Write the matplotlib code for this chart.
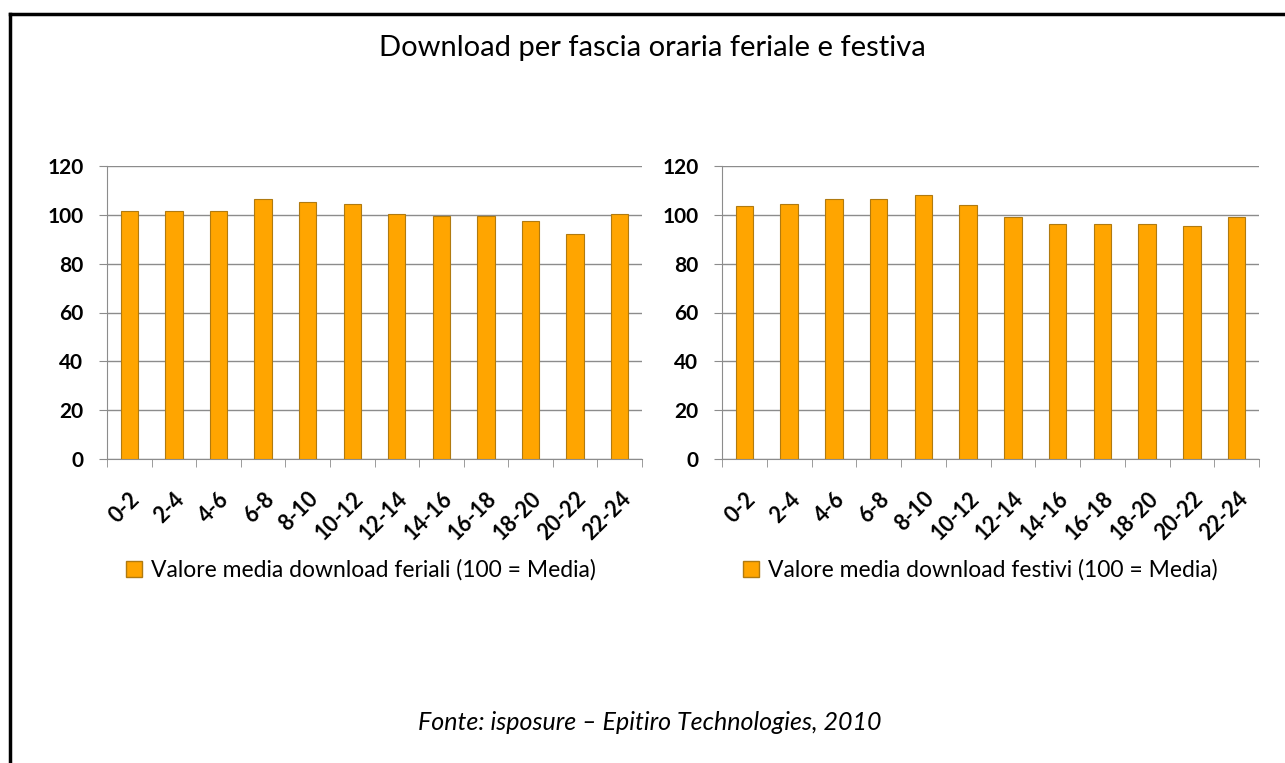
import numpy as np
import matplotlib
matplotlib.use("Agg")
import matplotlib.pyplot as plt
from matplotlib.lines import Line2D
from matplotlib.patches import Patch

plt.rcParams['font.family'] = ['Lato', 'DejaVu Sans']

# dati
fasce = ['0-2', '2-4', '4-6', '6-8', '8-10', '10-12', '12-14',
         '14-16', '16-18', '18-20', '20-22', '22-24']
feriali = [101.6, 101.6, 101.6, 106.6, 105.4, 104.6, 100.4,
           99.4, 99.4, 97.4, 92.3, 100.4]
festivi = [103.6, 104.5, 106.5, 106.5, 108.3, 104.0, 99.3,
           96.4, 96.4, 96.4, 95.5, 99.3]
legenda_fer = 'Valore media download feriali (100 = Media)'
legenda_fes = 'Valore media download festivi (100 = Media)'

W, H = 1285, 763
fig = plt.figure(figsize=(W / 100, H / 100), dpi=100)

bar_col = '#FFA500'
edge_col = '#B07A10'
grid_col = '#8C8C8C'


def disegna(ax, valori, etichetta, leg_x):
    x = np.arange(len(fasce))
    ax.bar(x, valori, width=0.39, color=bar_col, edgecolor=edge_col,
           linewidth=0.8, zorder=3)
    ax.set_xlim(-0.5, len(fasce) - 0.5)
    ax.set_ylim(0, 120)
    ax.set_yticks(np.arange(0, 121, 20))
    ax.yaxis.grid(True, color=grid_col, linewidth=1, zorder=0)
    for s in ['top', 'right']:
        ax.spines[s].set_visible(False)
    for s in ['left', 'bottom']:
        ax.spines[s].set_color(grid_col)
    ax.set_xticks(x)
    ax.set_xticklabels(fasce, rotation=45, ha='right', rotation_mode='anchor',
                       fontsize=15.5, fontweight='bold')
    ax.set_xticks(np.arange(-0.5, len(fasce), 1), minor=True)
    ax.tick_params(axis='x', which='major', length=0, pad=21)
    ax.tick_params(axis='x', which='minor', length=6, color=grid_col)
    ax.tick_params(axis='y', length=6, color=grid_col, labelsize=15, pad=11)
    for t in ax.get_yticklabels():
        t.set_fontweight('bold')
    h = Patch(facecolor=bar_col, edgecolor=edge_col, label=etichetta)
    fig.legend(handles=[h], loc='center', bbox_to_anchor=(leg_x, 0.253),
               frameon=False, fontsize=16.5, handlelength=0.7, handleheight=0.7,
               handletextpad=0.4)


ax1 = fig.add_axes([107 / W, 1 - 459 / H, 535 / W, 293 / H])
disegna(ax1, feriali, legenda_fer, 361 / W)

ax2 = fig.add_axes([722 / W, 1 - 459 / H, 537 / W, 293 / H])
disegna(ax2, festivi, legenda_fes, 980 / W)

fig.text(652 / W, 1 - 48 / H, 'Download per fascia oraria feriale e festiva',
         ha='center', va='center', fontsize=21)
fig.text(650 / W, 1 - 723 / H, 'Fonte: isposure \u2013 Epitiro Technologies, 2010',
         ha='center', va='center', fontsize=18, style='italic')

# bordo
fig.add_artist(Line2D([10 / W, 10 / W], [0, 1 - 14 / H], color='black', lw=2.5))
fig.add_artist(Line2D([10 / W, 1], [1 - 14 / H, 1 - 14 / H], color='black', lw=2.5))

fig.savefig('out.png', dpi=100)
